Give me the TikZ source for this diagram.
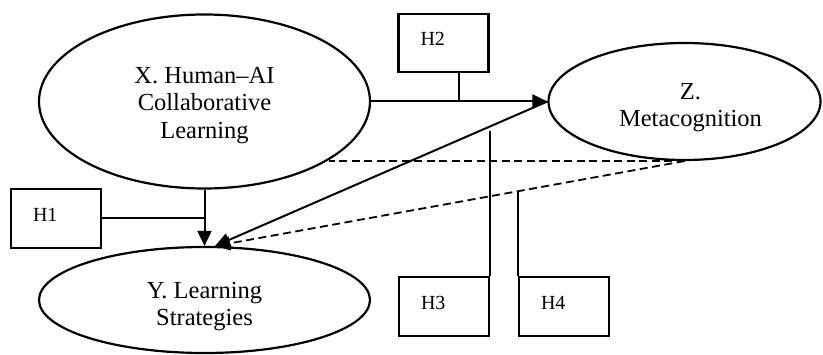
\documentclass[tikz,border=0pt]{standalone}
\usepackage{fontspec}
\setmainfont{Liberation Serif}
\usetikzlibrary{arrows.meta,shapes.geometric}
\begin{document}
\begin{tikzpicture}[x=1pt,y=-1pt,
  ell/.style={draw, ellipse, line width=2.2pt, inner sep=0pt, align=center, font=\fontsize{24.5}{27.5}\selectfont},
  hbox/.style={draw, line width=2.1pt, minimum width=90pt, minimum height=58.5pt, text width=46pt, inner xsep=22pt, inner ysep=0pt, align=left, font=\fontsize{20}{22}\selectfont},
  conn/.style={line width=2pt},
  dconn/.style={line width=1.8pt, dash pattern=on 8pt off 4.5pt},
  arr/.style={-{Triangle[length=15pt,width=14pt]}}
]
\useasboundingbox (0,0) rectangle (823,355);
\node[ell, minimum width=331pt, minimum height=174pt] (X) at (204.5,101.5) {\rule{0pt}{24pt}X. Human–AI\\Collaborative\\Learning};
\node[ell, minimum width=331pt, minimum height=106pt] (Y) at (204.5,300) {\rule{0pt}{29.5pt}Y. Learning\\Strategies};
\node[ell, minimum width=272pt, minimum height=117pt] (Z) at (684.5,101.5) {\hspace*{12pt}\rule{0pt}{28pt}Z.\\\hspace*{12pt}Metacognition};
\node[hbox] (H1) at (56,218.5) {\raisebox{8pt}{H1}};
\node[hbox] (H2) at (443.5,43) {\raisebox{8pt}{H2}};
\node[hbox] (H3) at (444,306.5) {\raisebox{8pt}{H3}};
\node[hbox] (H4) at (564,306.5) {\raisebox{8pt}{H4}};
\draw[conn, arr] (X.east) -- (Z.west);
\coordinate (h2c) at ([xshift=15.5pt]H2.south);
\draw[conn] (h2c) -- (h2c |- X.east);
\draw[conn, arr] (X.south) -- (Y.north);
\draw[conn] (H1.east) -- (H1.east -| X.south);
\coordinate (yt) at (Y.79);
\draw[conn, arr] (Z.west) -- (yt);
\coordinate (xb) at (X.-25.5);
\draw[dconn] (Z.south) -- (xb |- Z.south);
\draw[dconn, arr] (Z.south) -- (yt);
\path (Z.south) -- (yt) coordinate[pos=0.3525] (h4c);
\draw[conn] (H4.north west) -- (H4.north west |- h4c);
\coordinate (h3c) at (489,131);
\draw[conn] (H3.north east) -- (H3.north east |- h3c);
\end{tikzpicture}
\end{document}
